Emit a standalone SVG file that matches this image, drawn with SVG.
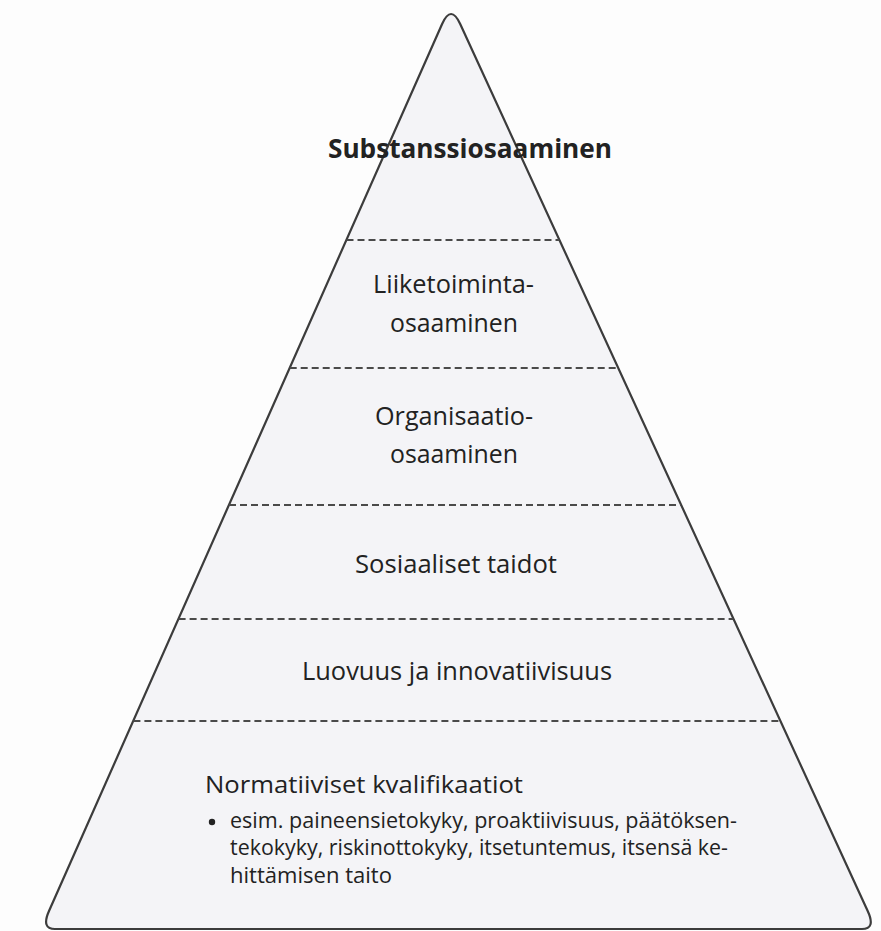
<svg xmlns="http://www.w3.org/2000/svg" width="881" height="931" viewBox="0 0 881 931">
  <style>
    .edge { fill: #f4f4f7; stroke: #3c3c3c; stroke-width: 2.2; stroke-linejoin: round; }
    .tier { stroke: #4a4a4a; stroke-width: 1.8; stroke-dasharray: 7 4; fill: none; }
    .lbl { font-family: "Open Sans", "Liberation Sans", sans-serif; fill: #222222; }
    .title { font-weight: bold; font-size: 27px; }
    .level { font-size: 26px; }
    .head { font-size: 24px; }
    .item { font-size: 21px; }
  </style>
  <rect width="881" height="931" fill="#fdfdfd"/>

  <!-- pyramid outline with rounded corners -->
  <g id="pyramid">
    <path class="edge" d="M 442.1 24 Q 451 4 460.2 24 L 867.7 911 Q 876 929 862 929 L 55 929 Q 41 929 49 911 Z"/>
  </g>

  <!-- dashed tier boundaries -->
  <g id="connectors">
    <line class="tier" x1="346.5" y1="240" x2="559.3" y2="240"/>
    <line class="tier" x1="289.7" y1="368" x2="618.1" y2="368"/>
    <line class="tier" x1="229.0" y1="505" x2="680.9" y2="505"/>
    <line class="tier" x1="178.6" y1="619" x2="733.3" y2="619"/>
    <line class="tier" x1="133.4" y1="721" x2="780.1" y2="721"/>
  </g>

  <g id="substanssi">
    <text class="lbl title" x="328" y="158" textLength="284" lengthAdjust="spacingAndGlyphs">Substanssiosaaminen</text>
  </g>

  <g id="liiketoiminta">
    <text class="lbl level" x="373" y="293" textLength="161" lengthAdjust="spacingAndGlyphs">Liiketoiminta-</text>
    <text class="lbl level" x="390" y="332" textLength="128" lengthAdjust="spacingAndGlyphs">osaaminen</text>
  </g>

  <g id="organisaatio">
    <text class="lbl level" x="375" y="425" textLength="158" lengthAdjust="spacingAndGlyphs">Organisaatio-</text>
    <text class="lbl level" x="390" y="463" textLength="128" lengthAdjust="spacingAndGlyphs">osaaminen</text>
  </g>

  <g id="sosiaaliset">
    <text class="lbl level" x="355" y="573" textLength="202" lengthAdjust="spacingAndGlyphs">Sosiaaliset taidot</text>
  </g>

  <g id="luovuus">
    <text class="lbl level" x="302" y="680" textLength="310" lengthAdjust="spacingAndGlyphs">Luovuus ja innovatiivisuus</text>
  </g>

  <g id="normatiiviset">
    <text class="lbl head" x="205" y="793" textLength="318" lengthAdjust="spacingAndGlyphs">Normatiiviset kvalifikaatiot</text>
    <circle cx="212" cy="822" r="3.2" fill="#222222"/>
    <text class="lbl item" x="230" y="828" textLength="507" lengthAdjust="spacingAndGlyphs">esim. paineensietokyky, proaktiivisuus, päätöksen-</text>
    <text class="lbl item" x="230" y="855" textLength="498" lengthAdjust="spacingAndGlyphs">tekokyky, riskinottokyky, itsetuntemus, itsensä ke-</text>
    <text class="lbl item" x="230" y="883" textLength="162" lengthAdjust="spacingAndGlyphs">hittämisen taito</text>
  </g>
</svg>
